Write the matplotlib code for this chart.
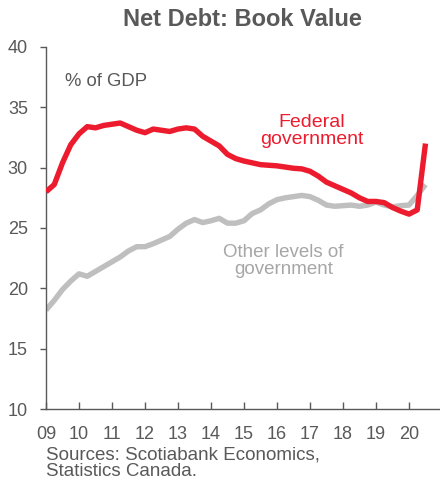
import matplotlib
matplotlib.use("Agg")
import matplotlib.pyplot as plt
import numpy as np

plt.rcParams["font.family"] = ["Liberation Sans", "DejaVu Sans"]

# Quarterly data, 2009Q1 .. 2020Q3 (% of GDP)
QUARTER_START = 2009.0
FEDERAL = [28.0, 28.6, 30.4, 31.9, 32.8, 33.4, 33.3, 33.5, 33.6, 33.7,
           33.4, 33.1, 32.9, 33.2, 33.1, 33.0, 33.2, 33.3, 33.2, 32.6,
           32.2, 31.8, 31.1, 30.75, 30.55, 30.4, 30.25, 30.2, 30.15, 30.05,
           29.95, 29.9, 29.7, 29.3, 28.8, 28.5, 28.2, 27.9, 27.5, 27.2,
           27.2, 27.1, 26.7, 26.4, 26.15, 26.5, 32.0]
OTHER = [18.2, 19.0, 19.9, 20.6, 21.2, 21.0, 21.4, 21.8, 22.2, 22.6,
         23.1, 23.45, 23.45, 23.7, 24.0, 24.3, 24.9, 25.4, 25.7, 25.45,
         25.6, 25.8, 25.4, 25.4, 25.6, 26.2, 26.5, 27.0, 27.35, 27.5,
         27.6, 27.7, 27.6, 27.3, 26.9, 26.8, 26.85, 26.9, 26.8, 26.9,
         27.15, 26.9, 26.75, 26.85, 26.9, 27.7, 28.6]
YEAR_TICKS = list(range(2009, 2021))
YEAR_LABELS = [f"{y % 100:02d}" for y in YEAR_TICKS]
Y_TICKS = [10, 15, 20, 25, 30, 35, 40]

RED = "#EC1C2E"
GREY = "#BFBFBF"
TXT = "#595959"

x = QUARTER_START + np.arange(len(FEDERAL)) * 0.25

fig = plt.figure(figsize=(4.4, 4.83), dpi=100)
ax = fig.add_axes([46 / 440, 74 / 483, 1 - 46 / 440, 362 / 483])

ax.plot(x, OTHER, color=GREY, lw=3.9, solid_capstyle="butt", zorder=2)
ax.plot(x, FEDERAL, color=RED, lw=3.9, solid_capstyle="butt", zorder=3)

ax.set_xlim(2009, 2020.94)
ax.set_ylim(10, 40)
ax.set_yticks(Y_TICKS)
ax.set_xticks(YEAR_TICKS)
ax.set_xticklabels(YEAR_LABELS)

for s in ["top", "right"]:
    ax.spines[s].set_visible(False)
for s in ["left", "bottom"]:
    ax.spines[s].set_color(TXT)
    ax.spines[s].set_linewidth(1.0)

ax.tick_params(axis="y", direction="out", length=4, width=1, color=TXT,
               labelcolor=TXT, labelsize=13, pad=9)
ax.tick_params(axis="x", direction="in", length=5, width=1, color=TXT,
               labelcolor=TXT, labelsize=13, pad=12)

ax.text(0.048, 0.905, "% of GDP", transform=ax.transAxes, color=TXT,
        fontsize=13.3, ha="left", va="center")
ax.text(2017.05, 33.05, "Federal\ngovernment", color=RED, fontsize=14,
        ha="center", va="center", linespacing=1.0)
ax.text(2016.2, 22.3, "Other levels of\ngovernment", color="#A6A6A6",
        fontsize=13.5, ha="center", va="center", linespacing=1.0)

fig.text(242 / 440, 1 - 19 / 483, "Net Debt: Book Value", color=TXT,
         fontsize=17, fontweight="bold", ha="center", va="center")
fig.text(46 / 440, 1 - 463 / 483, "Sources: Scotiabank Economics,\nStatistics Canada.",
         color=TXT, fontsize=13.5, ha="left", va="center", linespacing=0.95)

fig.savefig("out.png", dpi=100)
